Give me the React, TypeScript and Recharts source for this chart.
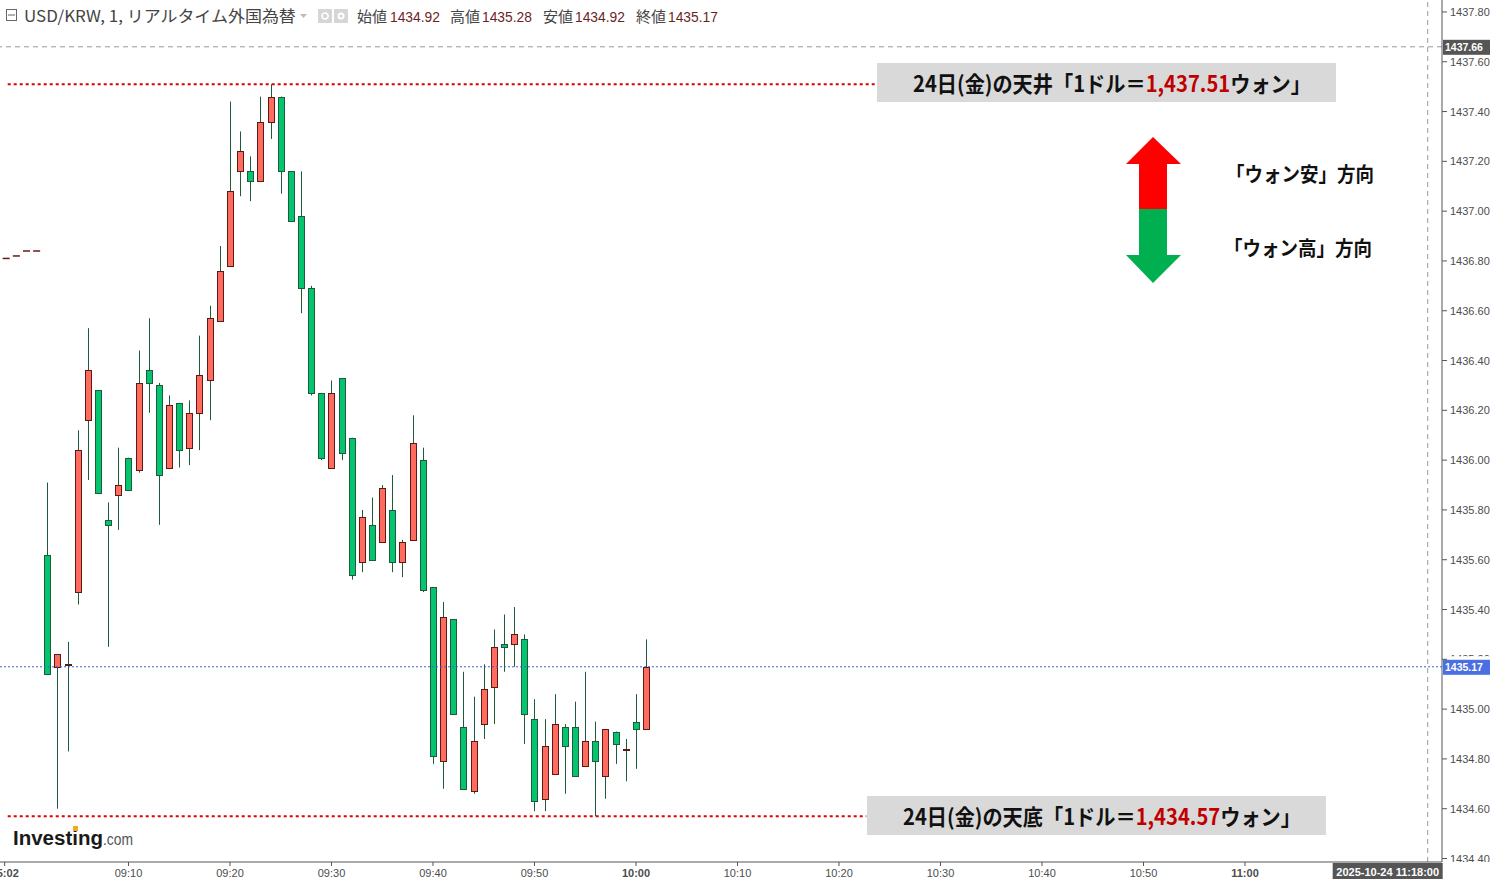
import React, { useLayoutEffect, useRef, useState } from 'react';
import { ComposedChart, Bar, Scatter, XAxis, YAxis, ReferenceLine } from 'recharts';

// 1-minute USD/KRW candles, 24 Oct
const times = [
  '09:02', '09:03', '09:04', '09:05', '09:06', '09:07', '09:08', '09:09', '09:10', '09:11',
  '09:12', '09:13', '09:14', '09:15', '09:16', '09:17', '09:18', '09:19', '09:20', '09:21',
  '09:22', '09:23', '09:24', '09:25', '09:26', '09:27', '09:28', '09:29', '09:30', '09:31',
  '09:32', '09:33', '09:34', '09:35', '09:36', '09:37', '09:38', '09:39', '09:40', '09:41',
  '09:42', '09:43', '09:44', '09:45', '09:46', '09:47', '09:48', '09:49', '09:50', '09:51',
  '09:52', '09:53', '09:54', '09:55', '09:56', '09:57', '09:58', '09:59', '10:00', '10:01',
];
const opens = [
  1435.62, 1435.17, 1435.18, 1435.47, 1436.16, 1436.28, 1435.76, 1435.86, 1436.01, 1435.96,
  1436.36, 1436.30, 1435.97, 1436.23, 1436.05, 1436.19, 1436.32, 1436.56, 1436.78, 1437.16,
  1437.16, 1437.12, 1437.36, 1437.46, 1437.16, 1436.98, 1436.69, 1436.27, 1435.97, 1436.33,
  1436.09, 1435.59, 1435.74, 1435.67, 1435.80, 1435.59, 1435.68, 1436.00, 1435.49, 1434.79,
  1435.36, 1434.93, 1434.67, 1434.94, 1435.09, 1435.26, 1435.26, 1435.28, 1434.96, 1434.64,
  1434.74, 1434.93, 1434.93, 1434.77, 1434.87, 1434.73, 1434.91, 1434.84, 1434.95, 1434.92,
];
const highs = [
  1435.91, 1435.22, 1435.27, 1436.12, 1436.53, 1436.28, 1435.83, 1436.05, 1436.01, 1436.44,
  1436.57, 1436.31, 1436.26, 1436.23, 1436.24, 1436.50, 1436.62, 1436.86, 1437.44, 1437.32,
  1437.22, 1437.46, 1437.51, 1437.46, 1437.16, 1437.16, 1436.70, 1436.27, 1436.32, 1436.33,
  1436.09, 1435.80, 1435.85, 1435.90, 1435.94, 1435.68, 1436.18, 1436.05, 1435.49, 1435.43,
  1435.36, 1435.15, 1435.05, 1435.18, 1435.32, 1435.38, 1435.41, 1435.30, 1435.04, 1434.96,
  1435.06, 1434.94, 1435.03, 1435.15, 1434.95, 1434.92, 1434.91, 1434.88, 1435.06, 1435.28,
];
const lows = [
  1435.14, 1434.60, 1434.83, 1435.42, 1435.92, 1435.87, 1435.25, 1435.72, 1435.88, 1435.95,
  1436.19, 1435.74, 1435.97, 1435.97, 1435.98, 1436.04, 1436.16, 1436.56, 1436.78, 1437.06,
  1437.04, 1437.12, 1437.29, 1437.07, 1436.96, 1436.59, 1436.26, 1436.00, 1435.97, 1436.00,
  1435.52, 1435.55, 1435.60, 1435.67, 1435.55, 1435.53, 1435.68, 1435.47, 1434.78, 1434.68,
  1434.98, 1434.68, 1434.66, 1434.88, 1434.94, 1435.15, 1435.17, 1434.86, 1434.59, 1434.59,
  1434.74, 1434.66, 1434.73, 1434.77, 1434.57, 1434.64, 1434.78, 1434.71, 1434.76, 1434.92,
];
const closes = [
  1435.14, 1435.22, 1435.18, 1436.04, 1436.36, 1435.87, 1435.74, 1435.90, 1435.88, 1436.31,
  1436.31, 1435.94, 1436.22, 1436.04, 1436.19, 1436.34, 1436.57, 1436.76, 1437.08, 1437.24,
  1437.12, 1437.36, 1437.46, 1437.16, 1436.96, 1436.69, 1436.27, 1436.01, 1436.27, 1436.03,
  1435.54, 1435.77, 1435.60, 1435.89, 1435.59, 1435.67, 1436.07, 1435.48, 1434.81, 1435.37,
  1434.98, 1434.68, 1434.87, 1435.08, 1435.25, 1435.25, 1435.30, 1434.98, 1434.63, 1434.85,
  1434.94, 1434.85, 1434.73, 1434.87, 1434.79, 1434.92, 1434.86, 1434.84, 1434.92, 1435.17,
];

// leftover indicator dashes at the left edge
const prevTimes = ['08:58', '08:59', '09:00', '09:01'];
const prevValues = [1436.81, 1436.82, 1436.84, 1436.84];

const priceTicks = [
  1434.4, 1434.6, 1434.8, 1435.0, 1435.2, 1435.4, 1435.6, 1435.8, 1436.0,
  1436.2, 1436.4, 1436.6, 1436.8, 1437.0, 1437.2, 1437.4, 1437.6, 1437.8,
];
const timeTicks = [-2.2, 10, 20, 30, 40, 50, 60, 70, 80, 90, 100, 110, 120];
const timeTickLabels = ['05:02', '09:10', '09:20', '09:30', '09:40', '09:50', '10:00', '10:10', '10:20', '10:30', '10:40', '10:50', '11:00'];
const boldTicks = ['05:02', '10:00', '11:00'];

const dayHigh = 1437.51;
const dayLow = 1434.57;
const lastPrice = 1435.17;
const cursorPrice = 1437.66;
const cursorTime = '11:18';
const cursorStamp = '2025-10-24 11:18:00';

const W = 1490;
const H = 879;
const AXIS_W = 48;
const AXIS_H = 17;
const PLOT_BOTTOM = H - AXIS_H;

const toMin = (t: string) => {
  const [h, m] = t.split(':').map(Number);
  return (h - 9) * 60 + m;
};

const candles = times.map((t, i) => ({
  m: toMin(t),
  open: opens[i],
  high: highs[i],
  low: lows[i],
  close: closes[i],
}));
const prevMarks = prevTimes.map((t, i) => ({ m: toMin(t), p: prevValues[i] }));

const UP_FILL = '#ff6b5e';
const UP_LINE = '#5c1a14';
const DOWN_FILL = '#05c46f';
const DOWN_LINE = '#1e5b3b';
const AXIS_COLOR = '#555';
const FONT = '"Liberation Sans", Arial, sans-serif';
const JP = '"Noto Sans CJK JP", "Noto Sans", sans-serif';

const Candle = (props: any) => {
  const { x, y, width, height, payload } = props;
  if (x == null || y == null) return null;
  const { open, close, high, low } = payload;
  const top = Math.min(y, y + height);
  const h = Math.abs(height);
  const ratio = high === low ? 0 : h / (high - low);
  const yOf = (v: number) => top + (high - v) * ratio;
  const up = close >= open;
  const bx = Math.round(x);
  const bodyTop = Math.round(yOf(Math.max(open, close)));
  const bodyBot = Math.round(yOf(Math.min(open, close)));
  return (
    <g>
      <line x1={bx + 3.5} x2={bx + 3.5} y1={top} y2={top + h} stroke={DOWN_LINE} strokeWidth={1} />
      <rect
        x={bx + 0.5}
        y={bodyTop + 0.5}
        width={width - 1}
        height={Math.max(bodyBot - bodyTop, 1)}
        fill={up ? UP_FILL : DOWN_FILL}
        stroke={up ? UP_LINE : DOWN_LINE}
        strokeWidth={1}
      />
    </g>
  );
};

const PrevDash = (props: any) => {
  const { cx, cy } = props;
  if (cx == null) return null;
  return <line x1={cx - 4} x2={cx + 3} y1={cy} y2={cy} stroke="#6b1a14" strokeWidth={1.5} />;
};

// label shown only partly, clipped to the band [top, bottom)
const Clipped = ({ x, y, top, bottom, children }: any) => (
  <svg x={x} y={top} width={50} height={Math.max(bottom - top, 0)} overflow="hidden">
    <g transform={`translate(0,${y - top})`}>{children}</g>
  </svg>
);

const PriceTick = (props: any) => {
  const { x, y, payload } = props;
  const value = Number(payload.value);
  const text = (
    <text x={0} y={0} dy={4} fontSize={11} fontFamily={FONT} fill="#4d4d4d" textAnchor="start">
      {value.toFixed(2)}
    </text>
  );
  if (y + 6 > PLOT_BOTTOM) {
    // bottom label is cut off by the time scale
    return <Clipped x={x} y={y} top={y - 10} bottom={PLOT_BOTTOM}>{text}</Clipped>;
  }
  if (Math.abs(value - lastPrice) < 0.05) {
    // mostly hidden behind the last-price tag
    return <Clipped x={x} y={y} top={y - 10} bottom={y - 3}>{text}</Clipped>;
  }
  return <g transform={`translate(${x},${y})`}>{text}</g>;
};

const TimeTick = (props: any) => {
  const { x, y, index } = props;
  const label = timeTickLabels[index] ?? '';
  return (
    <text
      x={x}
      y={y}
      dy={9}
      fontSize={11}
      fontFamily={FONT}
      fill="#4d4d4d"
      fontWeight={boldTicks.includes(label) ? 'bold' : 'normal'}
      textAnchor="middle"
    >
      {label}
    </text>
  );
};

const PriceTag = (props: any) => {
  const { viewBox, text, color } = props;
  if (!viewBox) return null;
  const left = viewBox.x + viewBox.width;
  const cy = viewBox.y;
  return (
    <g>
      <rect x={left + 1} y={cy - 7} width={AXIS_W} height={15} fill={color} />
      <text x={left + 3} y={cy} dy={4} fontSize={10.5} fontWeight="bold" fontFamily={FONT} fill="#fff">
        {text}
      </text>
    </g>
  );
};

const TimeTag = (props: any) => {
  const { viewBox, text } = props;
  if (!viewBox) return null;
  const bottom = viewBox.y + viewBox.height;
  return (
    <g>
      <rect x={viewBox.x - 95} y={bottom + 1} width={110} height={AXIS_H} fill="#555" />
      <text x={viewBox.x - 40} y={bottom + 1} dy={12.5} fontSize={11} fontWeight="bold" fontFamily={FONT} fill="#fff" textAnchor="middle">
        {text}
      </text>
    </g>
  );
};

// text squeezed horizontally to a given width (condensed look)
const FitText = ({ x, y, width, children, ...rest }: any) => {
  const ref = useRef<SVGTextElement>(null);
  const [k, setK] = useState(1);
  useLayoutEffect(() => {
    if (ref.current) {
      const n = ref.current.getComputedTextLength();
      if (n > 0) setK(width / n);
    }
  }, [width]);
  return (
    <g transform={`translate(${x},${y}) scale(${k},1)`}>
      <text ref={ref} x={0} y={0} {...rest}>{children}</text>
    </g>
  );
};

const Header = () => (
  <g>
    <rect x={6.5} y={9.5} width={10} height={11} fill="none" stroke="#666" />
    <line x1={8} x2={15} y1={15} y2={15} stroke="#666" />
    <FitText x={24} y={22} width={272} fontSize={16} fontFamily={JP} fill="#444">
      USD/KRW, 1, リアルタイム外国為替
    </FitText>
    <path d="M300 14 L307 14 L303.5 18 Z" fill="#bbb" />
    <rect x={318} y={9} width={14} height={14} fill="#d6d6d6" />
    <circle cx={325} cy={16} r={3} fill="none" stroke="#fff" strokeWidth={1.5} />
    <rect x={334} y={9} width={14} height={14} fill="#d6d6d6" />
    <circle cx={341} cy={16} r={3.5} fill="#fff" />
    <circle cx={341} cy={16} r={1.5} fill="#d6d6d6" />
    {[
      ['始値', 357, '1434.92', 390],
      ['高値', 450, '1435.28', 482],
      ['安値', 543, '1434.92', 575],
      ['終値', 636, '1435.17', 668],
    ].map(([k, kx, v, vx]) => (
      <g key={k as string}>
        <text x={kx as number} y={22} fontSize={15} fontFamily={JP} fill="#444">{k}</text>
        <FitText x={vx as number} y={22} width={50} fontSize={14} fontFamily={FONT} fill="#6b1f1f">{v}</FitText>
      </g>
    ))}
  </g>
);

// one boxed note: black lead text, red price, black tail
const NoteBox = ({ x, y, lead, price, tail }: { x: number; y: number; lead: string; price: string; tail: string }) => (
  <g>
    <rect x={x} y={y} width={459} height={39} fill="#d9d9d9" />
    <FitText x={x + 36} y={y + 29} width={398} fontSize={22} fontWeight="bold" fontFamily={JP} fill="#111">
      {lead}
      <tspan fill="#c00000">{price}</tspan>
      {tail}
    </FitText>
  </g>
);

const Notes = () => (
  <g>
    <NoteBox x={877} y={63} lead="24日(金)の天井「1ドル＝" price="1,437.51" tail="ウォン」" />
    <NoteBox x={867} y={796} lead="24日(金)の天底「1ドル＝" price="1,434.57" tail="ウォン」" />

    <path d="M1153 137 L1181 164 L1167 164 L1167 209 L1139 209 L1139 164 L1126 164 Z" fill="#ff0000" />
    <path d="M1139 209 L1167 209 L1167 255 L1181 255 L1153 283 L1126 255 L1139 255 Z" fill="#00b050" />
    <FitText x={1226} y={182} width={148} fontSize={20} fontWeight="bold" fontFamily={JP} fill="#111">
      「ウォン安」方向
    </FitText>
    <FitText x={1224} y={256} width={148} fontSize={20} fontWeight="bold" fontFamily={JP} fill="#111">
      「ウォン高」方向
    </FitText>

    <FitText x={13} y={845} width={90} fontSize={21} fontWeight="bold" fontFamily={FONT} fill="#1a1a1a">
      Investing
    </FitText>
    <rect x={73} y={826} width={5} height={5} fill="#f5a623" />
    <FitText x={103} y={845} width={30} fontSize={16} fontFamily={FONT} fill="#555">
      .com
    </FitText>
  </g>
);

const App: React.FC = () => {
  return (
    <div style={{ position: 'absolute', left: 0, top: 0, width: W, height: H, background: '#fff' }}>
      <ComposedChart width={W} height={H} data={candles} margin={{ top: 0, right: 0, bottom: 0, left: 0 }}>
        <XAxis
          dataKey="m"
          type="number"
          domain={[-2.66, 139.41]}
          allowDataOverflow
          ticks={timeTicks}
          interval={0}
          height={AXIS_H}
          tick={<TimeTick />}
          tickSize={4}
          tickMargin={2}
          axisLine={{ stroke: AXIS_COLOR }}
          tickLine={{ stroke: AXIS_COLOR }}
        />
        <YAxis
          orientation="right"
          type="number"
          domain={[1434.386, 1437.848]}
          allowDataOverflow
          ticks={priceTicks}
          interval={0}
          width={AXIS_W}
          tick={<PriceTick />}
          tickSize={5}
          tickMargin={3}
          axisLine={{ stroke: AXIS_COLOR }}
          tickLine={{ stroke: AXIS_COLOR }}
        />
        <ReferenceLine
          segment={[{ x: -1.9, y: dayHigh }, { x: 83.7, y: dayHigh }]}
          stroke="#e00000"
          strokeWidth={2}
          strokeDasharray="3 3"
        />
        <ReferenceLine
          segment={[{ x: -1.9, y: dayLow }, { x: 82.7, y: dayLow }]}
          stroke="#e00000"
          strokeWidth={2}
          strokeDasharray="3 3"
        />
        <ReferenceLine
          y={lastPrice}
          stroke="#3d5fd8"
          strokeDasharray="2 2"
          label={<PriceTag text={lastPrice.toFixed(2)} color="#4a6fe3" />}
        />
        <Scatter data={prevMarks} dataKey="p" shape={<PrevDash />} isAnimationActive={false} />
        <Bar
          dataKey={(d: any) => [d.low, d.high]}
          barSize={7}
          shape={<Candle />}
          isAnimationActive={false}
        />
        <ReferenceLine
          y={cursorPrice}
          stroke="#999"
          strokeDasharray="5 4"
          label={<PriceTag text={cursorPrice.toFixed(2)} color="#555" />}
        />
        <ReferenceLine
          x={toMin(cursorTime)}
          stroke="#999"
          strokeDasharray="5 4"
          label={<TimeTag text={cursorStamp} />}
        />
      </ComposedChart>
      <svg width={W} height={H} style={{ position: 'absolute', left: 0, top: 0, pointerEvents: 'none' }}>
        <Header />
        <Notes />
      </svg>
    </div>
  );
};

export default App;
